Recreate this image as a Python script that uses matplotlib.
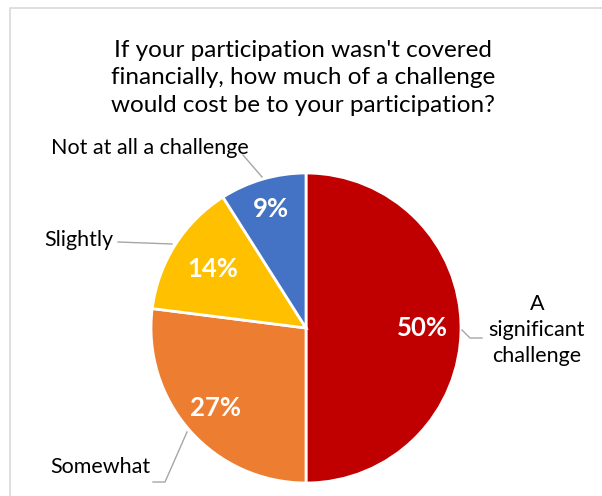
import numpy as np
import matplotlib
matplotlib.use("Agg")
from matplotlib import pyplot as plt

# survey answers, clockwise from 12 o'clock
categories = ["A\nsignificant\nchallenge", "Somewhat", "Slightly", "Not at all a challenge"]
shares = [50, 27, 14, 9]
colors = ["#C00000", "#ED7D31", "#FFC000", "#4472C4"]
title = "If your participation wasn't covered\nfinancially, how much of a challenge\nwould cost be to your participation?"

W, H = 602, 496
plt.rcParams['font.family'] = ['Lato', 'DejaVu Sans']

fig = plt.figure(figsize=(W / 100, H / 100), dpi=100)
ax = fig.add_axes([0, 0, 1, 1])

cx, cy, r = 306, 328, 155
# y axis runs downward (pixel coords), so counterclock=True draws clockwise on screen
wedges, _ = ax.pie(shares, colors=colors, startangle=-90, counterclock=True,
                   center=(cx, cy), radius=r, frame=True,
                   wedgeprops=dict(edgecolor="white", linewidth=2))
ax.set_xlim(0, W)
ax.set_ylim(H, 0)
ax.set_aspect("equal")
ax.axis("off")

# percent labels inside the slices
pct_dist = [0.75, 0.78, 0.71, 0.80]
total = sum(shares)
cum = 0
for v, d in zip(shares, pct_dist):
    mid = (cum + v / 2) / total * 2 * np.pi
    cum += v
    x = cx + d * r * np.sin(mid)
    y = cy - d * r * np.cos(mid)
    ax.text(x, y, f"{v}%", color="white", fontsize=18.5, fontweight="bold",
            ha="center", va="center")

# category labels with leader lines
lab_pos = [(537, 330), (100, 467), (79, 240), (150, 148)]
leaders = [
    [(462, 330), (470, 338), (482, 338)],
    [(153, 482), (165, 482), (187, 432)],
    [(118, 242), (172, 244)],
    [(243, 155), (262, 177)],
]
for (x, y), name, pts in zip(lab_pos, categories, leaders):
    ax.text(x, y, name, fontsize=15.5, ha="center", va="center", color="black",
            linespacing=1.37)
    xs, ys = zip(*pts)
    ax.plot(xs, ys, color="#A6A6A6", lw=1)

ax.text(303, 78, title, fontsize=17.5, ha="center", va="center", linespacing=1.37)

# chart area border
ax.plot([10, 10, W], [H, 8, 8], color="#D9D9D9", lw=1.2)

fig.savefig("out.png", dpi=100)
